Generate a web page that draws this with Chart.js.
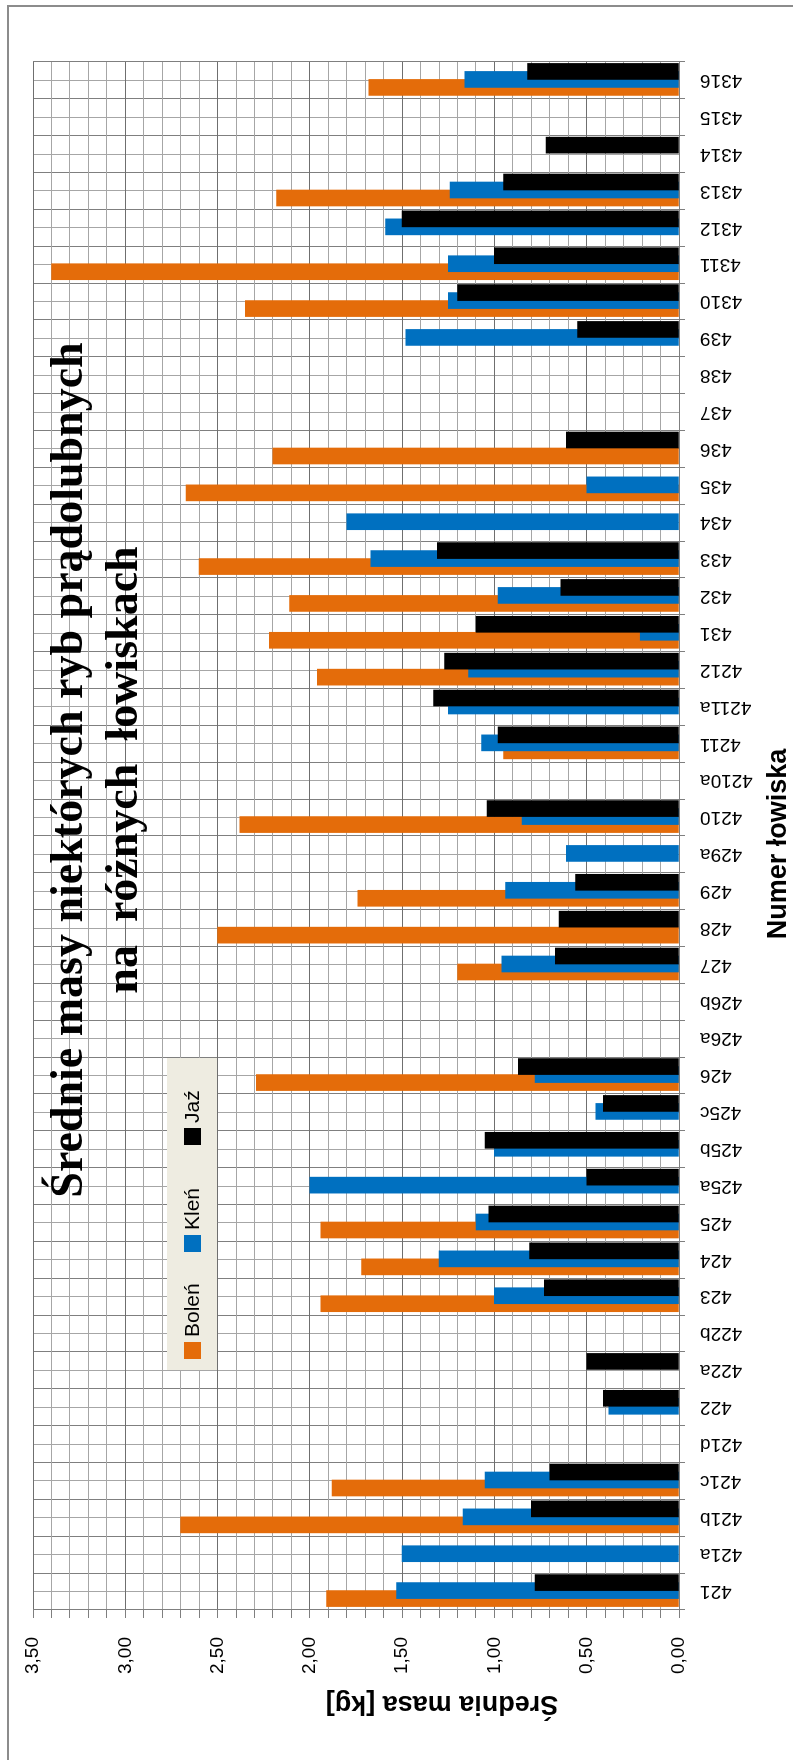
<!DOCTYPE html>
<html>
<head>
<meta charset="utf-8">
<script src="https://cdn.jsdelivr.net/npm/chart.js@4.4.1/dist/chart.umd.min.js"></script>
<style>
  html, body { margin: 0; padding: 0; width: 793px; height: 1760px; overflow: hidden; background: #fff; }
  /* the chart is laid out landscape, then turned a quarter turn to the left */
  #turned { position: absolute; left: 0; top: 0; width: 1760px; height: 793px;
            transform-origin: 0 0; transform: translateY(1760px) rotate(-90deg); }
  #frame { position: absolute; left: -10px; top: 7px; width: 1765px; height: 800px;
           border: 2px solid #8c8c8c; box-sizing: border-box; }
  #chart { position: absolute; left: 0; top: 0; }
</style>
</head>
<body>
<div id="turned">
  <div id="frame"></div>
  <canvas id="chart" width="1760" height="793"></canvas>
</div>
<script>
const categories = ['421', '421a', '421b', '421c', '421d', '422', '422a', '422b', '423', '424',
  '425', '425a', '425b', '425c', '426', '426a', '426b', '427', '428', '429', '429a', '4210',
  '4210a', '4211', '4211a', '4212', '431', '432', '433', '434', '435', '436', '437', '438',
  '439', '4310', '4311', '4312', '4313', '4314', '4315', '4316'];

const bolen = [1.91, null, 2.70, 1.88, null, null, null, null, 1.94, 1.72,
  1.94, null, null, null, 2.29, null, null, 1.20, 2.50, 1.74, null, 2.38,
  null, 0.95, null, 1.96, 2.22, 2.11, 2.60, null, 2.67, 2.20, null, null,
  null, 2.35, 3.40, null, 2.18, null, null, 1.68];

const klen = [1.53, 1.50, 1.17, 1.05, null, 0.38, null, null, 1.00, 1.30,
  1.10, 2.00, 1.00, 0.45, 0.78, null, null, 0.96, null, 0.94, 0.61, 0.85,
  null, 1.07, 1.25, 1.14, 0.21, 0.98, 1.67, 1.80, 0.50, null, null, null,
  1.48, 1.25, 1.25, 1.59, 1.24, null, null, 1.16];

const jaz = [0.78, null, 0.80, 0.70, null, 0.41, 0.50, null, 0.73, 0.81,
  1.03, 0.50, 1.05, 0.41, 0.87, null, null, 0.67, 0.65, 0.56, null, 1.04,
  null, 0.98, 1.33, 1.27, 1.10, 0.64, 1.31, null, null, 0.61, null, null,
  0.55, 1.20, 1.00, 1.50, 0.95, 0.72, null, 0.82];

const seriesNames = ['Boleń', 'Kleń', 'Jaź'];
const seriesColors = ['#E46C0A', '#0070C0', '#000000'];
const titleLines = ['Średnie masy niektórych ryb prądolubnych', 'na  różnych  łowiskach'];
const valueTitle = 'Średnia masa [kg]';
const categoryTitle = 'Numer łowiska';

const SANS = "'Liberation Sans', Arial, sans-serif";
const isHalf = v => Math.abs(v * 2 - Math.round(v * 2)) < 1e-6;

// bars of one category overlap like in Excel: move each series a bit sideways
const barShift = {
  id: 'barShift',
  afterDatasetsUpdate(chart) {
    chart.data.datasets.forEach((ds, i) => {
      chart.getDatasetMeta(i).data.forEach(bar => { bar.x += ds.shift; });
    });
  }
};

const decorations = {
  id: 'decorations',
  afterDraw(chart) {
    const ctx = chart.ctx;
    ctx.save();

    // legend box inside the plot
    ctx.fillStyle = '#EEECE1';
    ctx.fillRect(390, 167, 312, 50);
    ctx.font = '21px ' + SANS;
    ctx.textBaseline = 'middle';
    ctx.textAlign = 'left';
    seriesNames.forEach((name, i) => {
      const x = 401 + i * 107;
      ctx.fillStyle = seriesColors[i];
      ctx.fillRect(x, 184, 17, 17);
      ctx.fillStyle = '#000';
      ctx.fillText(name, x + 22, 193);
    });

    // title, written over the plot
    ctx.fillStyle = '#000';
    ctx.textAlign = 'center';
    ctx.textBaseline = 'alphabetic';
    ctx.font = "bold 46px 'Liberation Serif', 'Times New Roman', serif";
    ctx.fillText(titleLines[0], 990, 82);
    ctx.fillText(titleLines[1], 990, 137);

    // axis titles
    ctx.font = 'bold 27px ' + SANS;
    ctx.textBaseline = 'middle';
    ctx.fillText(categoryTitle, 916, 779);
    ctx.translate(57, 442);
    ctx.rotate(-Math.PI / 2);
    ctx.fillText(valueTitle, 0, 0);
    ctx.restore();
  }
};

const datasets = [bolen, klen, jaz].map((values, i) => ({
  label: seriesNames[i],
  data: values,
  backgroundColor: seriesColors[i],
  order: 3 - i,
  shift: [-7, 1, 9][i],
}));

new Chart(document.getElementById('chart'), {
  type: 'bar',
  data: {labels: categories, datasets},
  plugins: [barShift, decorations],
  options: {
    responsive: false,
    animation: false,
    layout: {padding: {top: 33, right: 62, left: 0, bottom: 0}},
    datasets: {bar: {grouped: false, barThickness: 16}},
    plugins: {legend: {display: false}, tooltip: {enabled: false}},
    scales: {
      x: {
        offset: true,
        afterFit: s => { s.height = 114; },
        border: {color: '#7f7f7f'},
        grid: {offset: true, color: '#7f7f7f', tickColor: '#7f7f7f', tickLength: 6},
        ticks: {autoSkip: false, minRotation: 90, maxRotation: 90, padding: 15,
                color: '#000', font: {family: SANS, size: 19}},
      },
      x2: {
        type: 'category',
        position: 'bottom',
        offset: true,
        afterFit: s => { s.height = 0; },
        border: {display: false},
        grid: {offset: false, color: '#a6a6a6', drawTicks: false},
        ticks: {display: false},
      },
      y: {
        min: 0,
        max: 3.5,
        afterFit: s => { s.width = 150; },
        border: {color: '#7f7f7f'},
        grid: {
          color: c => (c.tick && isHalf(c.tick.value)) ? '#6f6f6f' : '#a6a6a6',
          tickColor: '#7f7f7f',
          tickLength: 8,
        },
        ticks: {
          stepSize: 0.1,
          autoSkip: false,
          padding: 19,
          color: '#000',
          font: {family: SANS, size: 19},
          callback: v => isHalf(v) ? v.toFixed(2).replace('.', ',') : '',
        },
      },
    },
  },
});
</script>
</body>
</html>
